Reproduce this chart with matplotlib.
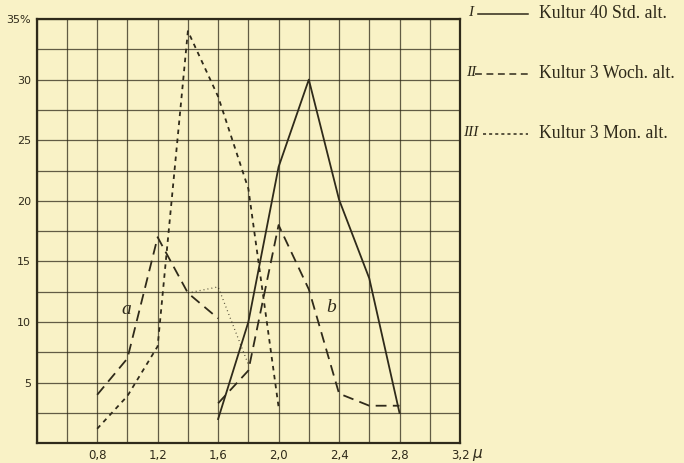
import matplotlib
matplotlib.use("Agg")
import matplotlib.pyplot as plt
from matplotlib.lines import Line2D
import numpy as np

# ---- data ----
x_I = [1.6, 1.8, 2.0, 2.2, 2.4, 2.6, 2.8]
y_I = [2.0, 10.0, 22.8, 30.0, 20.1, 13.6, 2.5]

x_IIa = [0.8, 1.0, 1.2, 1.4, 1.6]
y_IIa = [4.0, 7.0, 17.0, 12.4, 10.3]

x_IIb = [1.6, 1.8, 2.0, 2.2, 2.4, 2.6, 2.8]
y_IIb = [3.3, 6.0, 18.0, 12.7, 4.1, 3.1, 3.1]

x_sum = [1.4, 1.6, 1.8]
y_sum = [12.4, 12.9, 6.5]

x_III = [0.8, 1.0, 1.2, 1.4, 1.6, 1.8, 2.0]
y_III = [1.2, 3.9, 8.0, 34.0, 28.6, 21.0, 3.0]

xtick_vals = [0.8, 1.2, 1.6, 2.0, 2.4, 2.8, 3.2]
xtick_labels = ["0,8", "1,2", "1,6", "2,0", "2,4", "2,8", "3,2"]
ytick_vals = [5, 10, 15, 20, 25, 30, 35]
ytick_labels = ["5", "10", "15", "20", "25", "30", "35%"]

legend_numerals = ["I", "II", "III"]
legend_texts = ["Kultur 40 Std. alt.", "Kultur 3 Woch. alt.", "Kultur 3 Mon. alt."]

# ---- style ----
BG = "#F9F2C6"
INK = "#2f2a1a"
W, H = 684, 463

fig = plt.figure(figsize=(W / 100, H / 100), dpi=100, facecolor=BG)
ax = fig.add_axes([36.7 / W, (H - 443.3) / H, (460 - 36.7) / W, (443.3 - 19) / H])
ax.set_facecolor(BG)
ax.set_xlim(0.4, 3.2)
ax.set_ylim(0, 35)

ax.set_xticks(xtick_vals)
ax.set_xticklabels(xtick_labels)
ax.set_xticks(np.arange(0.4, 3.21, 0.2), minor=True)
ax.set_yticks(ytick_vals)
ax.set_yticklabels(ytick_labels)
ax.set_yticks(np.arange(0, 35.1, 2.5), minor=True)
ax.grid(True, which="both", color=INK, linewidth=0.9, alpha=0.75)
ax.set_axisbelow(True)
ax.tick_params(which="both", length=0, labelsize=8.5, colors=INK, pad=4)
for lab in ax.get_yticklabels():
    lab.set_fontsize(8)
for s in ax.spines.values():
    s.set_color(INK)
    s.set_linewidth(1.6)

# micron sign after the last x label
ax.annotate("$\\mu$", xy=(3.2, 0), xycoords="data", xytext=(8.5, -3),
            textcoords="offset points", ha="left", va="top", fontsize=11,
            color=INK, annotation_clip=False)

lw = 1.3
ax.plot(x_I, y_I, color=INK, linewidth=lw, linestyle="-")
dash_II = (0, (6, 3.5))
ax.plot(x_IIa, y_IIa, color=INK, linewidth=lw, linestyle=dash_II)
ax.plot(x_IIb, y_IIb, color=INK, linewidth=lw, linestyle=dash_II)
ax.plot(x_III, y_III, color=INK, linewidth=lw, linestyle=(0, (2.5, 2.5)))
ax.plot(x_sum, y_sum, color=INK, linewidth=0.9, linestyle=(0, (0.7, 2.5)), alpha=0.9)

ax.text(0.99, 10.3, "a", family="Liberation Serif", style="italic", fontsize=14,
        color=INK, ha="center", va="bottom")
ax.text(2.35, 10.5, "b", family="Liberation Serif", style="italic", fontsize=14,
        color=INK, ha="center", va="bottom")

# ---- legend on the right ----
def fx(px):
    return px / W

def fy(py):
    return (H - py) / H

rows_y = [13, 73, 133]
line_styles = ["-", (0, (4.5, 3)), (0, (2, 2))]
line_x0 = [478, 475, 483]
for num, txt, yy, ls, x0 in zip(legend_numerals, legend_texts, rows_y, line_styles, line_x0):
    fig.text(fx(471), fy(yy), num, family="Liberation Serif", style="italic",
             fontsize=11, color=INK, ha="center", va="center")
    fig.add_artist(Line2D([fx(x0), fx(528)], [fy(yy + 1), fy(yy + 1)],
                          color=INK, linewidth=1.1, linestyle=ls))
    fig.text(fx(539), fy(yy), txt, family="Liberation Serif", fontsize=12.8,
             color=INK, ha="left", va="center")

fig.savefig("out.png", dpi=100, facecolor=BG)
